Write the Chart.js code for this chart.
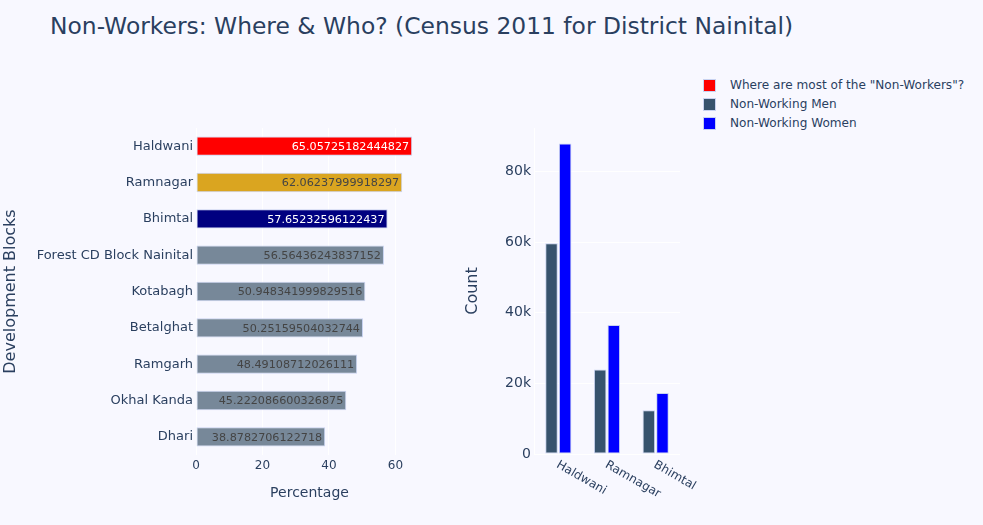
<!DOCTYPE html>
<html>
<head>
<meta charset="utf-8">
<script src="https://cdn.jsdelivr.net/npm/chart.js@4"></script>
<style>
  html, body { margin:0; padding:0; background:#f8f8ff; }
  body { width:983px; height:525px; position:relative; overflow:hidden; font-family:"DejaVu Sans", sans-serif; }
  #title { position:absolute; left:50px; top:15px; font-size:23.4px; line-height:1; color:#2a3f5f; white-space:nowrap; }
  #left { position:absolute; left:0; top:0; }
  #right { position:absolute; left:440px; top:0; }
  .leg { position:absolute; left:703px; font-size:12.1px; color:#2a3f5f; white-space:nowrap; height:19px; line-height:19px; }
  .leg span.sw { position:absolute; left:0; top:3px; width:11px; height:11px; border:1px solid rgba(200,210,240,1); }
  .leg span.tx { position:absolute; left:27px; top:0; }
</style>
</head>
<body>
<div id="title">Non-Workers: Where &amp; Who? (Census 2011 for District Nainital)</div>
<canvas id="left" width="440" height="525"></canvas>
<canvas id="right" width="260" height="525"></canvas>
<div id="legend"></div>
<script>
// ---- data ----
const blocks = ["Haldwani","Ramnagar","Bhimtal","Forest CD Block Nainital","Kotabagh","Betalghat","Ramgarh","Okhal Kanda","Dhari"];
const pctNonWorkers = [65.05725182444827, 62.06237999918297, 57.65232596122437, 56.56436243837152, 50.948341999829516, 50.25159504032744, 48.49108712026111, 45.222086600326875, 38.8782706122718];
const topBlocks = ["Haldwani","Ramnagar","Bhimtal"];
const nonWorkingMen = [59700, 23900, 12400];
const nonWorkingWomen = [87900, 36500, 17300];
const pctTicks = [0, 20, 40, 60];
const countTicks = [0, 20000, 40000, 60000, 80000];
const legendLabels = ['Where are most of the "Non-Workers"?', "Non-Working Men", "Non-Working Women"];

// ---- styles ----
const barColors = ["#ff0000","#daa520","#000080","#778899","#778899","#778899","#778899","#778899","#778899"];
const labelColors = ["#ffffff","#444444","#ffffff","#444444","#444444","#444444","#444444","#444444","#444444"];
const menColor = "rgb(55,83,109)";
const womenColor = "#0000ff";
const edgeColor = "rgba(200,210,240,1)";
const txt = "#2a3f5f";
const font = "'DejaVu Sans', sans-serif";

// legend
const legColors = ["#ff0000", menColor, womenColor];
const legEl = document.getElementById("legend");
legendLabels.forEach((l, i) => {
  const d = document.createElement("div");
  d.className = "leg";
  d.style.top = (76 + i * 19) + "px";
  d.innerHTML = '<span class="sw" style="background:' + legColors[i] + '"></span><span class="tx"></span>';
  d.querySelector(".tx").textContent = l;
  legEl.appendChild(d);
});

const barLabels = {
  id: "barLabels",
  afterDatasetsDraw(chart) {
    const ctx = chart.ctx;
    const meta = chart.getDatasetMeta(0);
    ctx.save();
    ctx.font = "11.2px " + font;
    ctx.textAlign = "right";
    ctx.textBaseline = "middle";
    meta.data.forEach((el, i) => {
      ctx.fillStyle = labelColors[i];
      ctx.fillText(String(pctNonWorkers[i]), el.x - 3, el.y + 1);
    });
    ctx.restore();
  }
};

new Chart(document.getElementById("left"), {
  type: "bar",
  data: {
    labels: blocks,
    datasets: [{
      data: pctNonWorkers,
      backgroundColor: barColors,
      borderColor: edgeColor,
      borderWidth: 1,
      borderSkipped: false,
      categoryPercentage: 1,
      barPercentage: 0.53
    }]
  },
  options: {
    indexAxis: "y",
    responsive: false,
    animation: false,
    layout: { padding: { top: 128, right: 17, left: 0, bottom: 0 } },
    plugins: { legend: { display: false }, tooltip: { enabled: false } },
    scales: {
      x: {
        min: 0,
        max: Math.max(...pctNonWorkers) * 1.05,
        afterBuildTicks(s) { s.ticks = pctTicks.map(v => ({ value: v })); },
        afterFit(s) { s.height = 70; },
        grid: { color: "#ffffff", lineWidth: 1, drawTicks: false },
        border: { display: false },
        ticks: { color: txt, font: { family: font, size: 12 }, padding: 4 },
        title: { display: true, text: "Percentage", color: txt, font: { family: font, size: 14 }, padding: { bottom: 23 } }
      },
      y: {
        afterFit(s) { s.width = 196; },
        grid: { display: false, drawTicks: false },
        border: { display: false },
        ticks: { color: txt, font: { family: font, size: 13 }, padding: 3 },
        title: { display: true, text: "Development Blocks", color: txt, font: { family: font, size: 16 }, padding: { top: 1 } }
      }
    }
  },
  plugins: [barLabels]
});

const rotLabels = {
  id: "rotLabels",
  afterDraw(chart) {
    const ctx = chart.ctx;
    const xs = chart.scales.x;
    ctx.save();
    ctx.font = "12px " + font;
    ctx.fillStyle = txt;
    ctx.textAlign = "left";
    ctx.textBaseline = "middle";
    topBlocks.forEach((l, i) => {
      const x = xs.getPixelForValue(i);
      ctx.save();
      ctx.translate(x - 1, chart.chartArea.bottom + 10);
      ctx.rotate(Math.PI / 6);
      ctx.fillText(l, 0, 0);
      ctx.restore();
    });
    ctx.restore();
  }
};

new Chart(document.getElementById("right"), {
  type: "bar",
  data: {
    labels: topBlocks,
    datasets: [
      { label: legendLabels[1], data: nonWorkingMen, backgroundColor: menColor, borderColor: edgeColor, borderWidth: 1, borderSkipped: false, categoryPercentage: 0.56, barPercentage: 0.92 },
      { label: legendLabels[2], data: nonWorkingWomen, backgroundColor: womenColor, borderColor: edgeColor, borderWidth: 1, borderSkipped: false, categoryPercentage: 0.56, barPercentage: 0.92 }
    ]
  },
  options: {
    responsive: false,
    animation: false,
    layout: { padding: { top: 128, right: 20, left: 0, bottom: 0 } },
    plugins: { legend: { display: false }, tooltip: { enabled: false } },
    scales: {
      x: {
        afterFit(s) { s.height = 71; },
        grid: { display: false, drawTicks: false },
        border: { display: false },
        ticks: { display: false }
      },
      y: {
        min: 0,
        max: Math.max(...nonWorkingWomen) * 1.05,
        afterBuildTicks(s) { s.ticks = countTicks.map(v => ({ value: v })); },
        afterFit(s) { s.width = 94; },
        grid: { color: "#ffffff", lineWidth: 1, drawTicks: false },
        border: { display: true, color: "#ffffff" },
        ticks: { color: txt, font: { family: font, size: 14 }, padding: 3,
          callback: v => v === 0 ? "0" : (v / 1000) + "k" },
        title: { display: true, text: "Count", color: txt, font: { family: font, size: 16 }, padding: { top: 23 } }
      }
    }
  },
  plugins: [rotLabels]
});
</script>
</body>
</html>
